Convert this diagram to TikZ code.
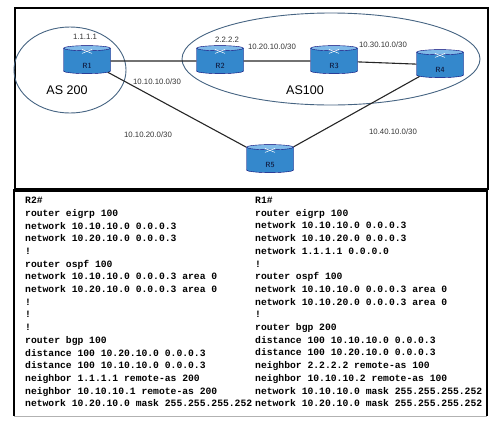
\documentclass[tikz,border=0pt]{standalone}
\usepackage{fontspec}
\setmainfont{Liberation Sans}
\newfontfamily\cfgfont{Liberation Mono}
\usetikzlibrary{shapes.geometric}
\begin{document}
\begin{tikzpicture}[
        x=1pt,y=-1pt,
        router/.style={cylinder,shape border rotate=90,aspect=0.55,draw=blue!45!black,thin,
            cylinder uses custom fill,cylinder body fill={rgb,255:red,52;green,136;blue,204},
            cylinder end fill={rgb,255:red,128;green,186;blue,232},
            minimum width=47pt,minimum height=28pt,inner sep=0pt,
            text height=14pt,text depth=0pt,
            font=\sffamily\bfseries\fontsize{7.5}{8}\selectfont,text={rgb,255:red,20;green,40;blue,80}},
        link/.style={draw=black!85,line width=1.1pt},
        asarea/.style={draw={rgb,255:red,70;green,100;blue,130},line width=0.9pt},
        net/.style={font=\fontsize{7.8}{8}\selectfont,inner sep=1pt,text=black!80},
        asname/.style={font=\fontsize{12.5}{13}\selectfont,inner sep=1pt},
        cfg/.style={anchor=north west,align=left,inner sep=0pt,
            font=\cfgfont\bfseries\fontsize{9.7}{12.7}\selectfont},
        ]
    \useasboundingbox (0,0) rectangle (496,421);
    % panels
    \draw[line width=1.6pt] (15,8) rectangle (488,189);
    \draw[black!30,line width=0.6pt] (14,416) -- (487,416);
    \draw[line width=1.2pt] (14,189) -- (14,416);
    \draw[line width=2pt] (487,189) -- (487,416);
    \draw[line width=3pt] (14,190) -- (488,190);
    % AS areas
    \draw[asarea] (70,70) ellipse [x radius=56pt,y radius=43pt];
    \draw[asarea] (331,59) ellipse [x radius=149pt,y radius=46pt];
    \node[asname] (as200) at (67,90) {AS 200};
    \node[asname] (as100) at (305,90) {AS100};
    % routers
    \node[router] (R1) at (87,61) {R1};
    \node[router] (R2) at (220,61) {R2};
    \node[router] (R3) at (334,61) {R3};
    \node[router] (R4) at (440,65) {R4};
    \node[router] (R5) at (270,160) {R5};
    \foreach \r in {R1,R2,R3,R4,R5} {
        \draw[white,line width=0.5pt] ([xshift=-5pt,yshift=-4pt]\r.north) -- ([xshift=5pt,yshift=-8pt]\r.north);
        \draw[white,line width=0.5pt] ([xshift=5pt,yshift=-4pt]\r.north) -- ([xshift=-5pt,yshift=-8pt]\r.north);
    }
    \draw[link] (R1) -- (R2);
    \draw[link] (R2) -- (R3);
    \draw[link] (R3) -- (R4);
    \draw[link] (R1) -- (R5);
    \draw[link] (R5) -- (R4);
    % addresses
    \node[net] (lo1) at (85,37) {1.1.1.1};
    \node[net] (lo2) at (227,40) {2.2.2.2};
    \node[net] (n1) at (157,82) {10.10.10.0/30};
    \node[net] (n2) at (272,47) {10.20.10.0/30};
    \node[net] (n3) at (383,45) {10.30.10.0/30};
    \node[net] (n4) at (148,135) {10.10.20.0/30};
    \node[net] (n5) at (393,132) {10.40.10.0/30};
    % configs
    \node[cfg] (r2cfg) at (25,197) {R2\#\\
        router eigrp 100\\
        network 10.10.10.0 0.0.0.3\\
        network 10.20.10.0 0.0.0.3\\
        !\\
        router ospf 100\\
        network 10.10.10.0 0.0.0.3 area 0\\
        network 10.20.10.0 0.0.0.3 area 0\\
        !\\
        !\\
        !\\
        router bgp 100\\
        distance 100 10.20.10.0 0.0.0.3\\
        distance 100 10.10.10.0 0.0.0.3\\
        neighbor 1.1.1.1 remote-as 200\\
        neighbor 10.10.10.1 remote-as 200\\
        network 10.20.10.0 mask 255.255.255.252};
    \node[cfg] (r1cfg) at (255,197) {R1\#\\
        router eigrp 100\\
        network 10.10.10.0 0.0.0.3\\
        network 10.10.20.0 0.0.0.3\\
        network 1.1.1.1 0.0.0.0\\
        !\\
        router ospf 100\\
        network 10.10.10.0 0.0.0.3 area 0\\
        network 10.10.20.0 0.0.0.3 area 0\\
        !\\
        router bgp 200\\
        distance 100 10.10.10.0 0.0.0.3\\
        distance 100 10.20.10.0 0.0.0.3\\
        neighbor 2.2.2.2 remote-as 100\\
        neighbor 10.10.10.2 remote-as 100\\
        network 10.10.10.0 mask 255.255.255.252\\
        network 10.20.10.0 mask 255.255.255.252};
\end{tikzpicture}
\end{document}
